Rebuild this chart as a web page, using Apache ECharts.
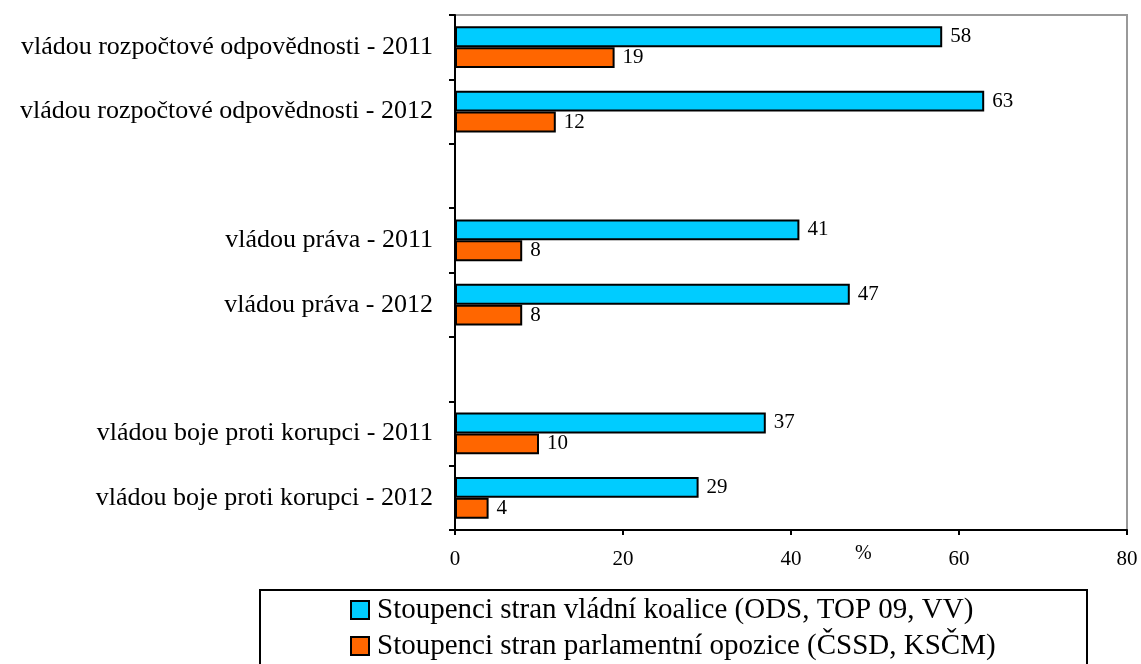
<!DOCTYPE html>
<html>
<head>
<meta charset="utf-8">
<script src="https://cdn.jsdelivr.net/npm/echarts@6/dist/echarts.min.js"></script>
<style>
  html, body { margin: 0; padding: 0; background: #fff; }
  #chart { width: 1141px; height: 664px; }
</style>
</head>
<body>
<div id="chart"></div>
<script>
// kategorie (prázdné = mezera mezi skupinami)
const categories = [
  "vládou rozpočtové odpovědnosti - 2011",
  "vládou rozpočtové odpovědnosti - 2012",
  "",
  "vládou práva - 2011",
  "vládou práva - 2012",
  " ",
  "vládou boje proti korupci - 2011",
  "vládou boje proti korupci - 2012"
]
const koalice = [58, 63, null, 41, 47, null, 37, 29]
const opozice = [19, 12, null, 8, 8, null, 10, 4]
const seriesNames = [
  "Stoupenci stran vládní koalice (ODS, TOP 09, VV)",
  "Stoupenci stran parlamentní opozice (ČSSD, KSČM)"
]
const xTicks = { min: 0, max: 80, interval: 20 }

const font = "'Liberation Serif', 'DejaVu Serif', serif"

let option = {
  animation: false,
  textStyle: { fontFamily: font, color: "#000" },
  grid: {
    left: 455,
    right: 14,
    top: 15,
    bottom: 134,
    show: true,
    borderColor: "#999",
    borderWidth: 2
  },
  graphic: [
    {
      type: "rect",
      shape: { x: 260, y: 590, width: 827, height: 90 },
      style: { fill: "none", stroke: "#000", lineWidth: 2 }
    },
    {
      type: "text",
      left: 855,
      top: 544,
      style: { text: "%", font: "20px " + font, fill: "#000" }
    }
  ],
  legend: {
    orient: "vertical",
    left: 350,
    top: 595,
    padding: 0,
    itemGap: 6,
    itemWidth: 18,
    itemHeight: 18,
    icon: "rect",
    itemStyle: { borderColor: "#000", borderWidth: 2 },
    textStyle: { fontFamily: font, fontSize: 29, lineHeight: 30, color: "#000", padding: [0, 0, 0, 3] },
    data: seriesNames
  },
  xAxis: {
    type: "value",
    min: xTicks.min,
    max: xTicks.max,
    interval: xTicks.interval,
    splitLine: { show: false },
    axisLine: { show: true, lineStyle: { color: "#000", width: 2 } },
    axisTick: { show: true, length: 5, lineStyle: { color: "#000", width: 2 } },
    axisLabel: { color: "#000", fontSize: 21, fontFamily: font, margin: 19 }
  },
  yAxis: {
    type: "category",
    inverse: true,
    data: categories,
    axisLine: { show: true, lineStyle: { color: "#000", width: 2 } },
    axisTick: { show: true, length: 6, lineStyle: { color: "#000", width: 2 } },
    axisLabel: { color: "#000", fontSize: 26, fontFamily: font, margin: 22 }
  },
  series: [
    {
      name: seriesNames[0],
      type: "bar",
      barCategoryGap: "35%",
      barGap: "0%",
      itemStyle: { color: "#00ccff", borderColor: "#000", borderWidth: 2 },
      label: { show: true, position: "right", distance: 8, color: "#000", fontSize: 21, fontFamily: font },
      data: koalice
    },
    {
      name: seriesNames[1],
      type: "bar",
      barCategoryGap: "35%",
      barGap: "0%",
      itemStyle: { color: "#ff6600", borderColor: "#000", borderWidth: 2 },
      label: { show: true, position: "right", distance: 8, color: "#000", fontSize: 21, fontFamily: font },
      data: opozice
    }
  ]
}

let chartEl = echarts.init(document.getElementById("chart"))
chartEl.setOption(option)
window.addEventListener("resize", () => chartEl.resize())
</script>
</body>
</html>
